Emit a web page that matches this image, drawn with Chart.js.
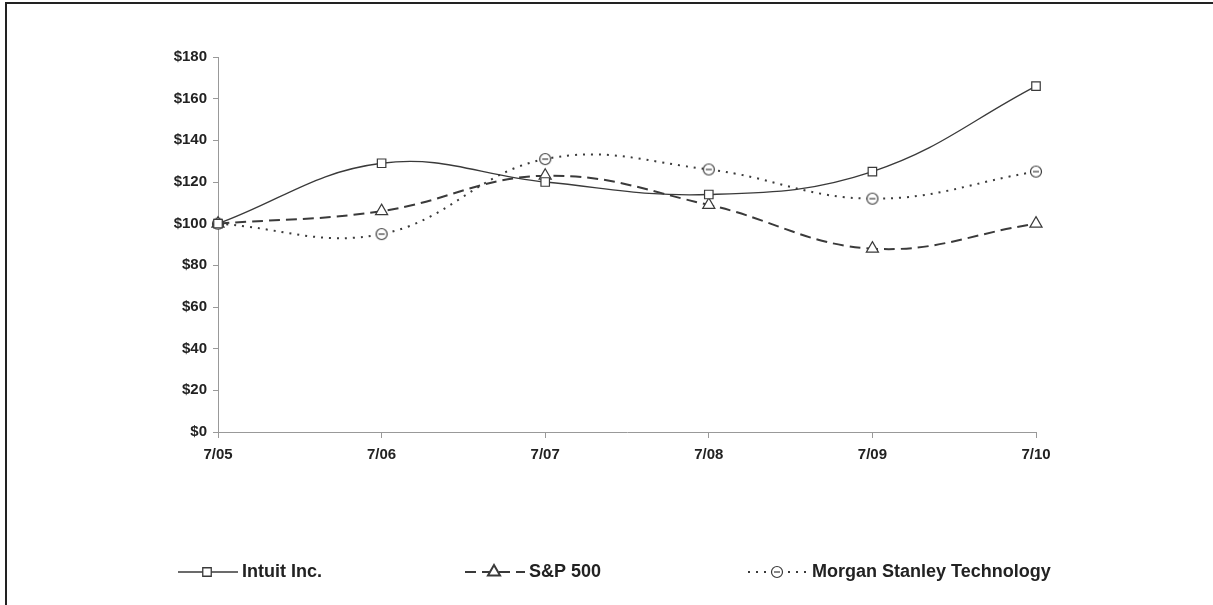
<!DOCTYPE html>
<html>
<head>
<meta charset="utf-8">
<script src="https://cdn.jsdelivr.net/npm/chart.js@4.4.0/dist/chart.umd.min.js"></script>
<style>
  html, body { margin: 0; padding: 0; background: #fff; }
  #wrap { position: relative; width: 1213px; height: 605px; }
  #frame { position: absolute; left: 5px; top: 2px; right: 0; bottom: -5px; border-left: 2px solid #222; border-top: 2px solid #222; pointer-events: none; }
</style>
</head>
<body>
<div id="wrap">
  <canvas id="perfChart" width="1213" height="605"></canvas>
  <div id="frame"></div>
</div>
<script>
// Data
const periods = ['7/05', '7/06', '7/07', '7/08', '7/09', '7/10'];
const intuit = [100, 129, 120, 114, 125, 166];
const sp500 = [100, 106, 123, 109, 88, 100];
const msTech = [100, 95, 131, 126, 112, 125];
const yTicks = [0, 20, 40, 60, 80, 100, 120, 140, 160, 180];

const ink = '#3a3a3a';
const labelFont = { family: 'Liberation Sans, Arial, sans-serif', size: 15, weight: 'bold' };

// circle with a dash inside, as in the original marker
function dashCircle() {
    const c = document.createElement('canvas');
    c.width = 14; c.height = 14;
    const g = c.getContext('2d');
    g.fillStyle = '#fff';
    g.strokeStyle = ink;
    g.lineWidth = 1.2;
    g.beginPath();
    g.arc(7, 7, 5.5, 0, Math.PI * 2);
    g.fill();
    g.stroke();
    g.beginPath();
    g.moveTo(4, 7);
    g.lineTo(10, 7);
    g.stroke();
    return c;
}
const circleMark = dashCircle();

// legend drawn along the bottom, line sample with marker in the middle
const bottomLegend = {
    id: 'bottomLegend',
    afterDraw(chart) {
        const ctx = chart.ctx;
        const slots = [178, 465, 748];
        const y = 572;
        chart.data.datasets.forEach((ds, i) => {
            const x0 = slots[i];
            ctx.save();
            ctx.strokeStyle = ink;
            ctx.lineWidth = ds.borderWidth;
            ctx.setLineDash(ds.borderDash || []);
            ctx.beginPath();
            ctx.moveTo(x0, y);
            ctx.lineTo(x0 + 60, y);
            ctx.stroke();
            ctx.setLineDash([]);
            Chart.helpers.drawPoint(ctx, {
                pointStyle: ds.pointStyle,
                radius: ds.pointRadius,
                borderWidth: 1.2,
                rotation: 0
            }, x0 + 29, y);
            ctx.fillStyle = '#222';
            ctx.font = 'bold 18px "Liberation Sans", Arial, sans-serif';
            ctx.textBaseline = 'middle';
            ctx.fillText(ds.label, x0 + 64, y);
            ctx.restore();
        });
    }
};

const ctx = document.getElementById('perfChart').getContext('2d');
const perfChart = new Chart(ctx, {
    type: 'line',
    data: {
        labels: periods,
        datasets: [
            {
                label: 'Intuit Inc.',
                data: intuit,
                borderColor: ink,
                borderWidth: 1.3,
                pointStyle: 'rect',
                pointRadius: 6,
                pointBackgroundColor: '#fff',
                pointBorderColor: ink,
                pointBorderWidth: 1.2,
                tension: 0.4
            },
            {
                label: 'S&P 500',
                data: sp500,
                borderColor: ink,
                borderWidth: 2,
                borderDash: [11, 6],
                pointStyle: 'triangle',
                pointRadius: 7,
                pointBackgroundColor: '#fff',
                pointBorderColor: ink,
                pointBorderWidth: 1.2,
                tension: 0.4
            },
            {
                label: 'Morgan Stanley Technology',
                data: msTech,
                borderColor: ink,
                borderWidth: 2,
                borderDash: [2, 6],
                pointStyle: circleMark,
                pointRadius: 6,
                tension: 0.4
            }
        ]
    },
    options: {
        responsive: false,
        animation: false,
        devicePixelRatio: 1,
        clip: false,
        layout: { padding: { left: 20, right: 177, top: 57, bottom: 143 } },
        scales: {
            x: {
                offset: false,
                border: { color: '#999', width: 1 },
                grid: { drawOnChartArea: false, color: '#999', tickLength: 6 },
                ticks: { color: '#222', font: labelFont, padding: 8, maxRotation: 0 },
                afterFit(scale) { scale.height = 30; }
            },
            y: {
                min: 0,
                max: 180,
                afterBuildTicks(scale) { scale.ticks = yTicks.map(v => ({ value: v })); },
                border: { color: '#999', width: 1 },
                grid: { drawOnChartArea: false, color: '#999', tickLength: 5 },
                ticks: { color: '#222', font: labelFont, padding: 6, callback: v => '$' + v },
                afterFit(scale) { scale.width = 198; }
            }
        },
        plugins: {
            legend: { display: false },
            tooltip: { enabled: false }
        }
    },
    plugins: [bottomLegend]
});
</script>
</body>
</html>
